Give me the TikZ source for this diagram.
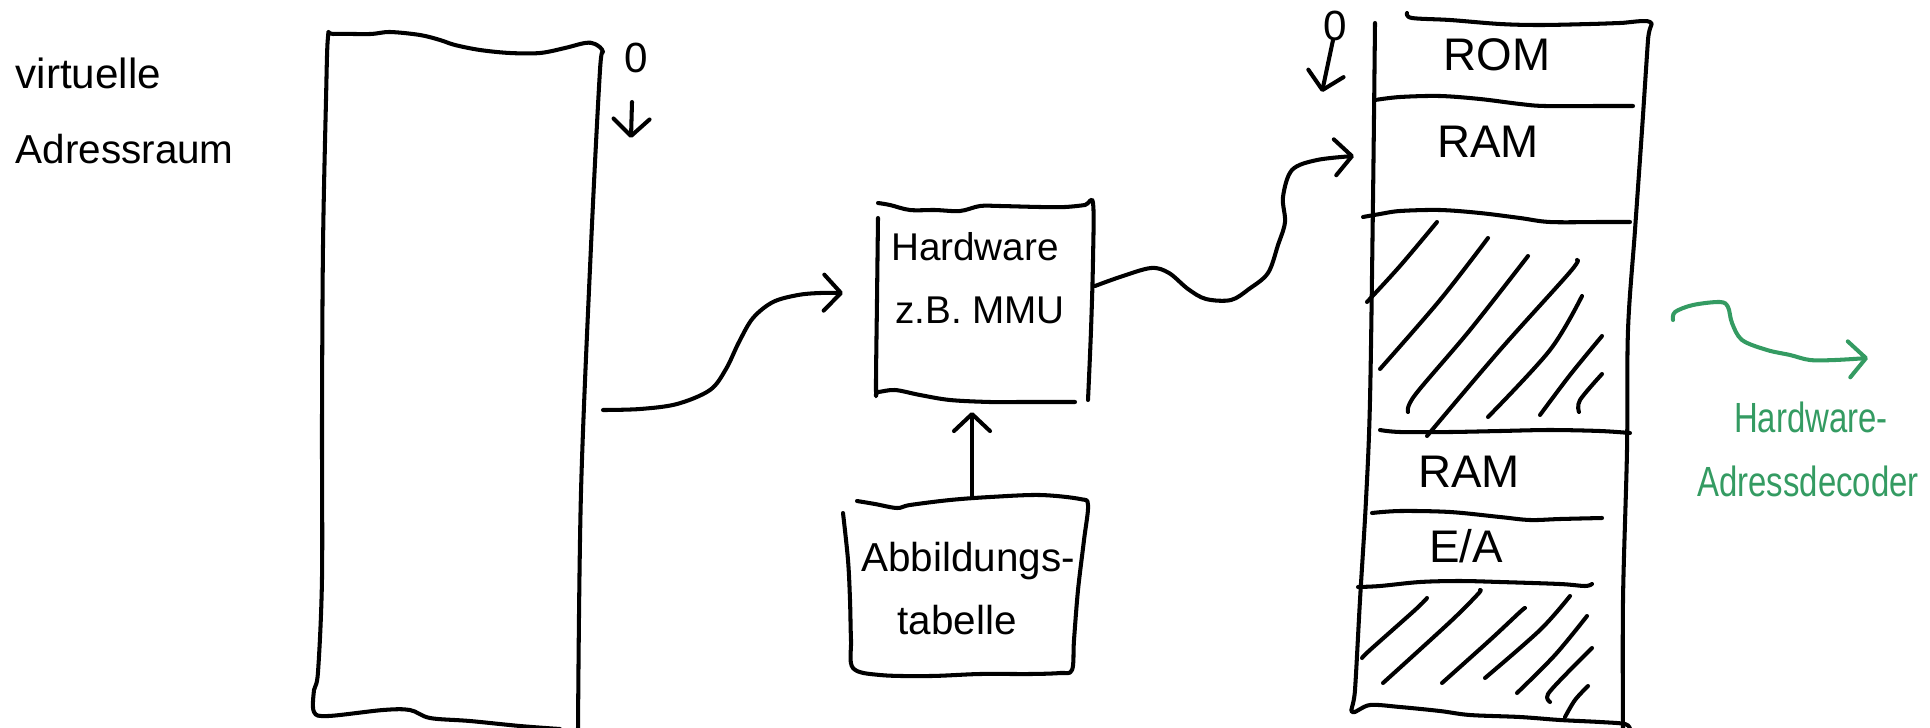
\documentclass[tikz,border=0pt]{standalone}
\usepackage{fontspec}
\setmainfont{Liberation Sans}
\newfontfamily\narrowsans[FakeStretch=0.78]{Liberation Sans}
\usetikzlibrary{arrows.meta}
\definecolor{inkgreen}{RGB}{52,155,98}
\tikzset{
  pen/.style={line width=1.15pt, line cap=round, line join=round},
  barb/.style={-{Straight Barb[length=1.7mm,width=3.6mm,round]}},
  hand/.style={smooth, tension=0.55},
  lbl/.style={inner sep=0pt, font=\fontsize{10.5}{12}\selectfont},
  memlbl/.style={inner sep=0pt, font=\fontsize{13}{15}\selectfont},
  side/.style={inner sep=0pt, anchor=base west, font=\fontsize{11.5}{13}\selectfont},
  zero/.style={inner sep=0pt, font=\fontsize{12}{14}\selectfont},
  note/.style={inner sep=0pt, text=inkgreen, font=\narrowsans\fontsize{12}{14}\selectfont},
}
\begin{document}
\begin{tikzpicture}[x=0.01cm, y=-0.01cm]
\useasboundingbox (0,0) rectangle (1930,727);

% ---- caption on the left
\node[side, font=\fontsize{12}{14}\selectfont] (vt1) at (15,88) {virtuelle};
\node[side] (vt2) at (15,163) {Adressraum};

% ---- virtual address space (tall box)
\draw[pen] plot[hand] coordinates {
  (578,730) (581,492) (591,246) (600,70) (603,52) (595,44) (585,43) (565,48)
  (540,53) (510,53) (480,50) (455,45) (440,40) (420,35) (390,32) (370,34)
  (333,34) (328,37) (326,100) (323,246) (322,420) (322,578) (318,672)
  (314,690) (314,712) (328,716) (383,710) (410,710) (430,718) (470,721)
  (520,726) (560,729)};
\node[zero] (v0) at (636,58) {0};
\coordinate (v0a) at (632,102);
\coordinate (v0b) at (631,138);
\draw[pen,barb] (v0a) -- (v0b);

% ---- MMU box
\draw[pen] plot[hand] coordinates {
  (878,218) (877,300) (876,390) (878,392) (895,390) (920,395) (950,400)
  (990,402) (1020,402) (1050,402) (1075,402)};
\draw[pen] plot[hand] coordinates {
  (878,203) (890,205) (910,210) (935,210) (960,211) (980,206) (1000,206)
  (1040,207) (1065,207) (1085,205) (1093,203) (1093,260) (1091,330) (1088,400)};
\node[lbl, font=\fontsize{11}{13}\selectfont] (mmu1) at (975,247) {Hardware};
\node[lbl, font=\fontsize{11}{13}\selectfont] (mmu2) at (980,310) {z.B. MMU};
\coordinate (mmuW) at (843,293);
\coordinate (mmuE) at (1095,286);
\coordinate (mmuS) at (972,412);

% ---- mapping table box
\draw[pen] plot[hand] coordinates {
  (857,501) (875,504) (897,508) (910,505) (950,500) (990,497) (1040,495)
  (1080,499) (1088,505) (1084,540) (1078,590) (1074,640) (1072,670)
  (1060,673) (1030,674) (980,674) (930,676) (880,675) (853,668)
  (851,640) (850,600) (848,560) (843,513)};
\node[lbl, font=\fontsize{11.5}{14}\selectfont] (tab1) at (968,561) {Abbildungs-};
\node[lbl, font=\fontsize{11.5}{14}\selectfont] (tab2) at (957,620) {tabelle};
\coordinate (tabN) at (972,496);

% ---- connectors
\coordinate (vaOut) at (603,410);
\draw[pen,barb] plot[hand] coordinates {
  (vaOut) (640,409) (677,404) (710,390) (726,369) (739,342) (753,318)
  (773,302) (798,295) (820,293) (mmuW)};
\draw[pen,barb] (tabN) -- (mmuS);
\coordinate (memW) at (1354,156);
\draw[pen,barb] plot[hand] coordinates {
  (mmuE) (1120,277) (1151,268) (1169,273) (1188,289) (1206,299) (1231,300)
  (1249,289) (1268,273) (1278,245) (1285,222) (1283,197) (1292,170)
  (1317,160) (memW)};

% ---- physical memory column
\draw[pen] plot[hand] coordinates {
  (1375,23) (1373,200) (1370,400) (1366,500) (1360,600) (1355,690)
  (1352,712) (1370,705) (1400,707) (1440,711) (1470,715) (1520,717)
  (1560,720) (1600,722) (1625,724) (1630,729)};
\draw[pen] plot[hand] coordinates {
  (1407,13) (1412,18) (1450,20) (1500,24) (1540,25) (1590,24) (1620,23)
  (1650,22) (1648,40) (1642,130) (1635,230) (1628,330) (1627,450)
  (1623,600) (1623,730)};
% dividers
\draw[pen] plot[hand] coordinates {(1375,100) (1400,97) (1440,96) (1480,99) (1520,104) (1545,106) (1600,106) (1633,106)};
\draw[pen] plot[hand] coordinates {(1363,217) (1380,214) (1400,211) (1440,210) (1480,213) (1520,218) (1550,222) (1600,222) (1630,222)};
\draw[pen] plot[hand] coordinates {(1380,430) (1400,432) (1450,432) (1500,431) (1550,430) (1600,431) (1630,433)};
\draw[pen] plot[hand] coordinates {(1372,513) (1400,511) (1450,512) (1500,517) (1530,520) (1560,519) (1602,518)};
\draw[pen] plot[hand] coordinates {(1358,587) (1380,586) (1420,582) (1460,581) (1500,582) (1560,584) (1585,586) (1592,584)};
% region labels
\node[memlbl] (rom) at (1497,55) {ROM};
\node[memlbl] (ram1) at (1488,142) {RAM};
\node[memlbl] (ram2) at (1469,472) {RAM};
\node[memlbl] (ea) at (1466,546) {E/A};
\node[zero] (p0) at (1335,26) {0};
\coordinate (p0a) at (1333,40);
\coordinate (p0b) at (1322,92);
\draw[pen,barb] (p0a) -- (p0b);

% hatching of the unused ranges
\draw[pen] plot[hand] coordinates {(1367,302) (1400,266) (1437,222)};
\draw[pen] plot[hand] coordinates {(1380,369) (1440,300) (1488,238)};
\draw[pen] plot[hand] coordinates {(1408,412) (1415,395) (1470,330) (1528,256)};
\draw[pen] plot[hand] coordinates {(1427,436) (1500,350) (1570,272) (1577,260)};
\draw[pen] plot[hand] coordinates {(1488,417) (1550,350) (1582,296)};
\draw[pen] plot[hand] coordinates {(1540,415) (1570,375) (1602,336)};
\draw[pen] plot[hand] coordinates {(1579,412) (1580,400) (1602,374)};
\draw[pen] plot[hand] coordinates {(1362,658) (1370,650) (1415,610) (1427,598)};
\draw[pen] plot[hand] coordinates {(1383,683) (1450,622) (1478,594) (1480,590)};
\draw[pen] plot[hand] coordinates {(1442,683) (1490,640) (1520,612) (1525,608)};
\draw[pen] plot[hand] coordinates {(1485,678) (1540,630) (1570,596)};
\draw[pen] plot[hand] coordinates {(1517,693) (1555,655) (1587,616)};
\draw[pen] plot[hand] coordinates {(1550,702) (1548,694) (1570,670) (1592,648)};
\draw[pen] plot[hand] coordinates {(1565,717) (1575,700) (1588,686)};

% ---- annotation in green
\coordinate (gA) at (1673,320);
\coordinate (gB) at (1868,358);
\draw[pen,barb,inkgreen] plot[hand] coordinates {
  (gA) (1675,312) (1693,305) (1720,302) (1728,307) (1732,323) (1742,340)
  (1767,350) (1790,355) (1810,360) (1835,360) (gB)};
\node[note] (hw1) at (1811,417) {Hardware-};
\node[note] (hw2) at (1808,481) {Adressdecoder};
\end{tikzpicture}
\end{document}
